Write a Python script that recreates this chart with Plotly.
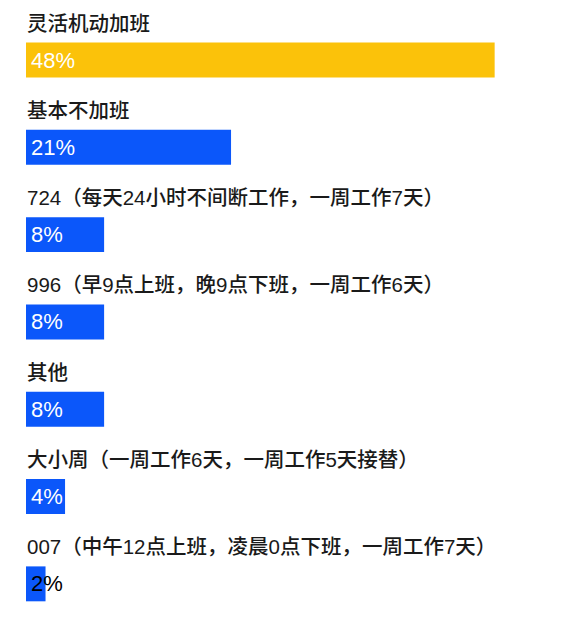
import plotly.graph_objects as go

# survey answers, top to bottom
categories = [
    "灵活机动加班",
    "基本不加班",
    "724（每天24小时不间断工作，一周工作7天）",
    "996（早9点上班，晚9点下班，一周工作6天）",
    "其他",
    "大小周（一周工作6天，一周工作5天接替）",
    "007（中午12点上班，凌晨0点下班，一周工作7天）",
]
shares = [48, 21, 8, 8, 8, 4, 2]
value_labels = ["48%", "21%", "8%", "8%", "8%", "4%", "2%"]
bar_colors = ["#FBC20A", "#0B57FA", "#0B57FA", "#0B57FA", "#0B57FA", "#0B57FA", "#0B57FA"]
value_colors = ["white", "white", "white", "white", "white", "white", "black"]

font = "Liberation Sans, Noto Sans CJK SC, sans-serif"
ypos = [-i for i in range(len(categories))]

fig = go.Figure()
fig.add_trace(go.Bar(
    x=shares,
    y=ypos,
    orientation="h",
    width=0.40,
    marker=dict(color=bar_colors, line=dict(width=0)),
    hoverinfo="skip",
))

# category labels above each bar and the share text inside it
for y, cat, lab, col in zip(ypos, categories, value_labels, value_colors):
    fig.add_annotation(x=0, y=y, text=cat, showarrow=False,
                       xanchor="left", yanchor="middle", yshift=37, xshift=-1,
                       font=dict(family=font, size=20.5, color="#1a1a1a", weight=500))
    fig.add_annotation(x=0, y=y, text=lab, showarrow=False,
                       xanchor="left", yanchor="middle", xshift=3,
                       font=dict(family=font, size=22, color=col))

# page puts the figure 8px in from the corner, so trim the size to match
fig.update_layout(
    width=555,
    height=625,
    margin=dict(l=18, r=0, t=0, b=0),
    plot_bgcolor="white",
    paper_bgcolor="white",
    showlegend=False,
    xaxis=dict(range=[0, 55], visible=False, fixedrange=True),
    yaxis=dict(range=[-6.563, 0.596], visible=False, fixedrange=True),
)

fig.write_html("out.html")
